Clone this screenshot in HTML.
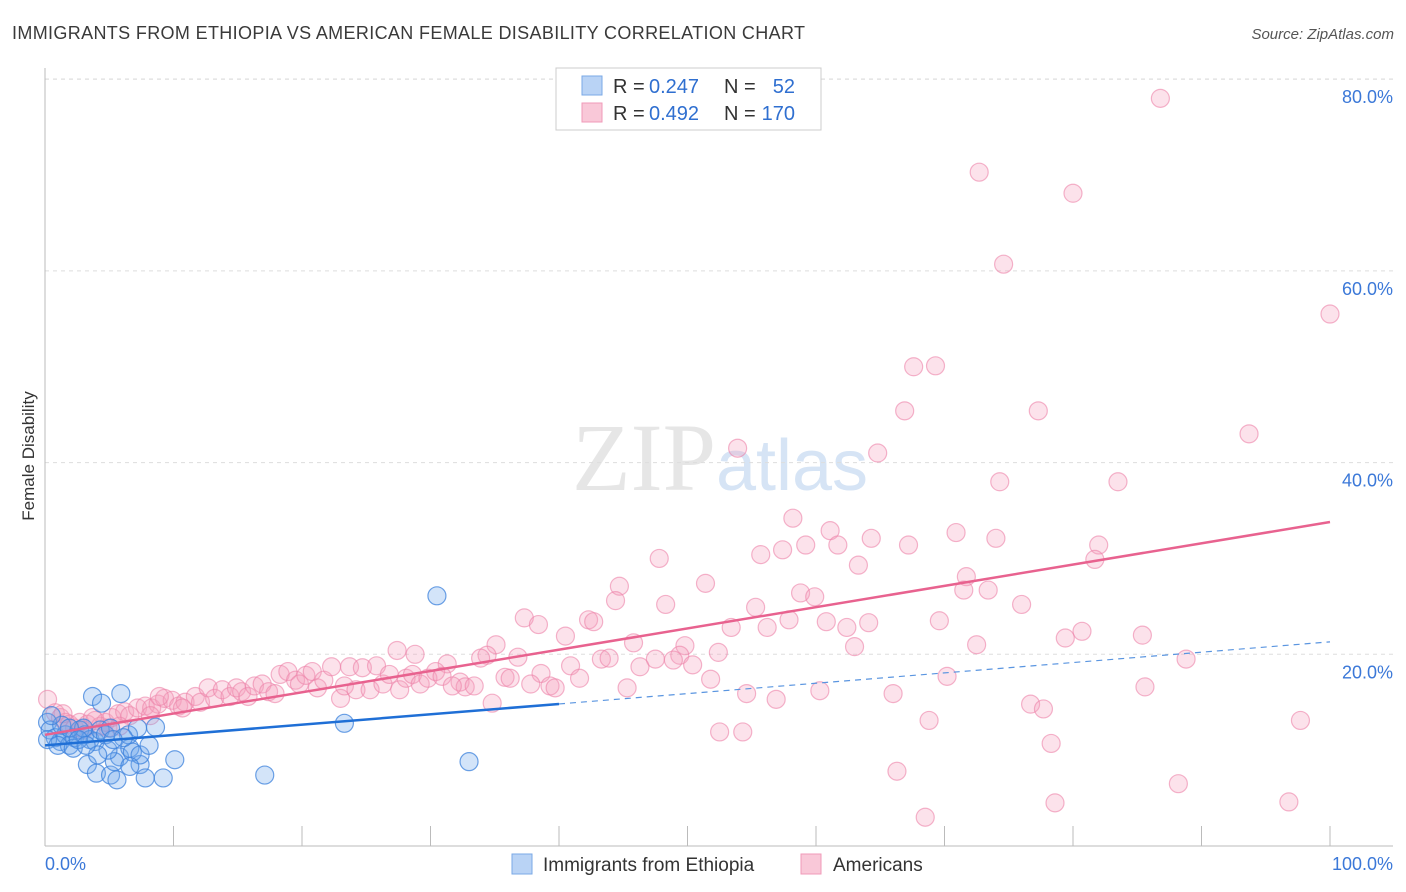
<!DOCTYPE html>
<html><head><meta charset="utf-8">
<style>
body{margin:0;background:#fff;font-family:"Liberation Sans",sans-serif;}
svg{display:block}
</style></head>
<body>
<svg id="chart" width="1406" height="892" xmlns="http://www.w3.org/2000/svg">
<text x="12" y="39" font-size="18" letter-spacing="0.35" fill="#3a3a3a">IMMIGRANTS FROM ETHIOPIA VS AMERICAN FEMALE DISABILITY CORRELATION CHART</text>
<text x="1394" y="39" font-size="15" font-style="italic" fill="#555" text-anchor="end">Source: ZipAtlas.com</text>
<text x="720" y="490" font-size="96" text-anchor="middle" fill="#e6e6e6" font-family="Liberation Serif,serif">ZIP<tspan fill="#d6e4f5" font-family="Liberation Sans,sans-serif" font-size="72">atlas</tspan></text>
<text transform="translate(34,456) rotate(-90)" font-size="17" fill="#333" text-anchor="middle">Female Disability</text>
<g id="grid"></g>
<g id="marks"></g>
<g id="lines"></g>
<g>
<rect x="556" y="68" width="265" height="62" fill="#fff" stroke="#ccc"/>
<rect x="582" y="76" width="20" height="19" fill="#b9d3f5" stroke="#7aa8e6"/>
<rect x="582" y="103" width="20" height="19" fill="#f9c8d8" stroke="#f09ab8"/>
<text x="613" y="93" font-size="20" fill="#333">R =</text>
<text x="649" y="93" font-size="20" fill="#2f6fd0">0.247</text>
<text x="724" y="93" font-size="20" fill="#333">N =</text>
<text x="795" y="93" font-size="20" fill="#2f6fd0" text-anchor="end">52</text>
<text x="613" y="120" font-size="20" fill="#333">R =</text>
<text x="649" y="120" font-size="20" fill="#2f6fd0">0.492</text>
<text x="724" y="120" font-size="20" fill="#333">N =</text>
<text x="795" y="120" font-size="20" fill="#2f6fd0" text-anchor="end">170</text>
</g>
<g>
<rect x="512" y="854" width="20" height="20" fill="#b9d3f5" stroke="#7aa8e6"/>
<text x="543" y="871" font-size="19" fill="#333">Immigrants from Ethiopia</text>
<rect x="801" y="854" width="20" height="20" fill="#f9c8d8" stroke="#f09ab8"/>
<text x="833" y="871" font-size="19" fill="#333">Americans</text>
</g>
</svg>
<script>
const yTicks=[20,40,60,80];
const yTickLabels=["20.0%","40.0%","60.0%","80.0%"];
const xTicks=[0,10,20,30,40,50,60,70,80,90,100];
const blueX=[0.2,0.4,0.8,1.2,1.6,1.9,2.3,2.7,3.1,3.5,3.9,4.3,4.7,5.1,0.2,1.0,2.2,3.0,3.7,4.4,5.9,3.3,4.0,5.1,5.8,6.6,7.4,7.8,9.2,10.1,8.6,6.5,7.2,5.4,6.8,4.9,6.1,7.4,8.1,17.1,23.3,30.5,33.0,1.3,0.5,4.1,5.6,6.6,1.9,2.6,3.2,5.3];
const blueY=[12.9,12.1,11.3,10.9,11.6,10.5,11.3,12.1,11.6,11.1,10.9,12.1,11.6,12.3,11.1,10.5,10.2,12.3,15.6,14.9,15.9,8.5,7.6,7.4,9.3,10.2,8.5,7.1,7.1,9.0,12.4,11.6,12.3,8.8,9.8,10.0,11.3,9.5,10.5,7.4,12.8,26.1,8.8,12.6,13.6,9.5,6.9,8.3,12.3,11.1,10.5,11.1];
const pinkX=[86.8,72.7,80.0,74.6,100,67.6,69.3,66.9,77.3,93.7,53.9,64.8,74.3,83.5,58.2,61.1,70.9,59.2,64.3,61.7,67.2,74.0,82.0,57.4,55.7,47.8,63.3,81.7,71.7,44.7,51.4,71.5,73.4,58.8,59.9,44.4,48.3,55.3,76.0,37.3,42.3,42.7,38.4,53.4,56.2,57.9,60.8,62.4,64.1,69.6,40.5,45.8,35.1,80.7,79.4,85.4,72.5,63.0,49.8,52.4,49.4,47.5,48.9,43.3,43.9,88.8,36.8,34.4,33.9,27.4,28.8,31.3,50.4,46.3,40.9,38.6,41.6,51.8,35.8,36.2,37.8,39.3,39.7,45.3,32.3,32.7,33.4,34.8,70.2,66.0,60.3,54.6,56.9,85.6,76.7,77.7,68.8,97.7,52.5,54.3,78.3,66.3,88.2,78.6,96.8,68.5,0.2,0.8,1.2,1.6,1.9,2.3,2.7,3.3,3.9,4.3,4.7,5.2,5.7,6.2,6.6,7.2,7.8,8.3,8.8,9.3,9.9,10.4,10.9,11.7,12.1,12.7,13.2,13.8,14.4,14.9,15.3,15.8,16.3,16.9,17.4,17.9,18.3,18.9,19.5,19.8,20.3,20.8,21.2,21.7,22.3,23.0,23.3,23.7,24.2,24.7,25.3,25.8,26.3,26.8,27.6,28.1,28.6,29.2,29.8,30.4,30.9,31.7,1.4,3.0,4.9,5.8,3.7,8.2,10.7,8.9];
const pinkY=[78.0,70.3,68.1,60.7,55.5,50.0,50.1,45.4,45.4,43.0,41.5,41.0,38.0,38.0,34.2,32.9,32.7,31.4,32.1,31.4,31.4,32.1,31.4,30.9,30.4,30.0,29.3,29.9,28.1,27.1,27.4,26.7,26.7,26.4,26.0,25.6,25.2,24.9,25.2,23.8,23.6,23.4,23.1,22.8,22.8,23.6,23.4,22.8,23.3,23.5,21.9,21.2,21.0,22.4,21.7,22.0,21.0,20.8,20.9,20.2,19.9,19.5,19.4,19.5,19.6,19.5,19.7,19.9,19.6,20.4,20.0,19.0,18.9,18.7,18.8,18.0,17.5,17.4,17.6,17.5,16.9,16.7,16.5,16.5,17.1,16.6,16.7,14.9,17.7,15.9,16.2,15.9,15.3,16.6,14.8,14.3,13.1,13.1,11.9,11.9,10.7,7.8,6.5,4.5,4.6,3.0,15.3,13.9,13.4,12.9,12.7,12.3,12.9,12.7,13.1,12.5,12.9,13.4,13.8,14.0,13.6,14.4,14.6,14.4,14.8,15.4,15.2,14.6,15.0,15.6,15.0,16.5,15.4,16.3,15.6,16.5,16.1,15.6,16.7,16.9,16.1,15.9,17.9,18.2,17.3,16.9,17.8,18.2,16.5,17.3,18.7,15.4,16.7,18.7,16.3,18.6,16.3,18.8,16.9,17.9,16.3,17.5,17.9,16.9,17.5,18.2,17.7,16.7,13.8,12.1,12.3,12.5,13.4,13.6,14.4,15.6];
const blueTrend=[10.5,21.3];
const blueSolidEnd=40;
const pinkTrend=[11.6,33.8];

const NS="http://www.w3.org/2000/svg";
const X0=45,X1=1330,Y0=846,YPER=9.585;
const sx=v=>X0+(X1-X0)*v/100;
const sy=v=>Y0-v*YPER;
function mk(tag,attrs,parent){const e=document.createElementNS(NS,tag);for(const k in attrs)e.setAttribute(k,attrs[k]);parent.appendChild(e);return e;}
const grid=document.getElementById('grid');
const marks=document.getElementById('marks');
const lines=document.getElementById('lines');
let gl=mk('line',{x1:X0,x2:1393,y1:79,y2:79,stroke:'#ddd','stroke-dasharray':'4,4'},grid);


yTicks.forEach((t,i)=>{
 const l=mk('line',{x1:X0,x2:1393,y1:sy(t),y2:sy(t),stroke:'#ddd','stroke-dasharray':'4,4'},grid);
 
 
 const tx=mk('text',{x:1393,y:sy(t)+24,'font-size':18,fill:'#3b78d8','text-anchor':'end'},grid);
 tx.textContent=yTickLabels[i];
 
 
});
let ax=mk('line',{x1:X0,x2:X0,y1:68,y2:846,stroke:'#bbb'},grid);


let bx=mk('line',{x1:X0,x2:1393,y1:846,y2:846,stroke:'#bbb'},grid);


xTicks.forEach(t=>{
 const l=mk('line',{x1:sx(t),x2:sx(t),y1:826,y2:846,stroke:'#bbb'},grid);
 
 
});
let xl0=mk('text',{x:45,y:870,'font-size':18,fill:'#3b78d8'},grid);xl0.textContent='0.0%';


let xl1=mk('text',{x:1393,y:870,'font-size':18,fill:'#3b78d8','text-anchor':'end'},grid);xl1.textContent='100.0%';


pinkX.forEach((v,i)=>{
 const c=mk('circle',{cx:sx(v),cy:sy(pinkY[i]),r:9,fill:'rgba(244,160,190,0.3)',stroke:'rgba(236,130,168,0.6)','stroke-width':1.2},marks);
 
 
});
blueX.forEach((v,i)=>{
 const c=mk('circle',{cx:sx(v),cy:sy(blueY[i]),r:9,fill:'rgba(110,165,235,0.3)',stroke:'rgba(60,130,220,0.75)','stroke-width':1.2},marks);
 
 
});
const by=x=>blueTrend[0]+(blueTrend[1]-blueTrend[0])*x/100;
let b1=mk('line',{x1:sx(0),y1:sy(by(0)),x2:sx(blueSolidEnd),y2:sy(by(blueSolidEnd)),stroke:'#1f6fd6','stroke-width':2.5},lines);


let b2=mk('line',{x1:sx(blueSolidEnd),y1:sy(by(blueSolidEnd)),x2:sx(100),y2:sy(by(100)),stroke:'#5a95e0','stroke-width':1.2,'stroke-dasharray':'6,5'},lines);


let p1=mk('line',{x1:sx(0),y1:sy(pinkTrend[0]),x2:sx(100),y2:sy(pinkTrend[1]),stroke:'#e8628f','stroke-width':2.5},lines);


</script>
</body></html>
